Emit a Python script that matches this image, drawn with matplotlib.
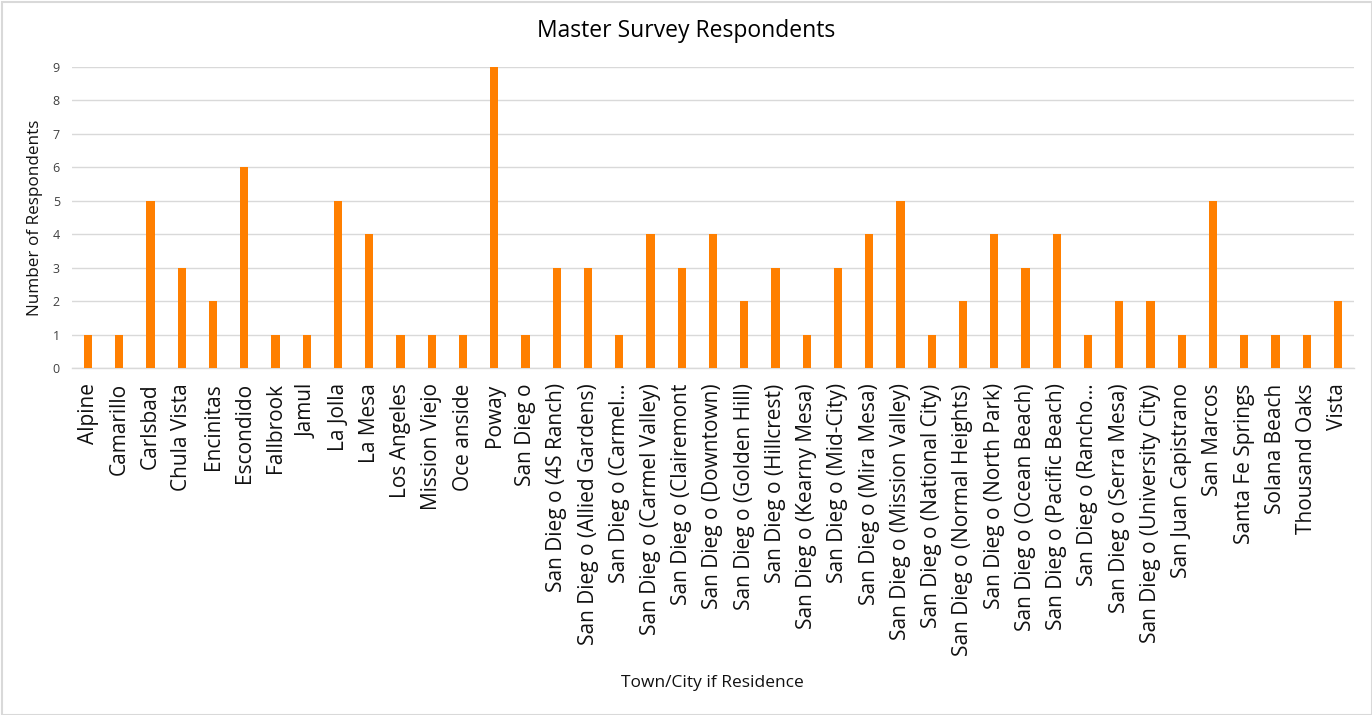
import matplotlib
matplotlib.use("Agg")
import matplotlib.pyplot as plt
from matplotlib.patches import Rectangle

categories = [
    "Alpine", "Camarillo", "Carlsbad", "Chula Vista", "Encinitas", "Escondido",
    "Fallbrook", "Jamul", "La Jolla", "La Mesa", "Los Angeles", "Mission Viejo",
    "Oce anside", "Poway", "San Dieg o", "San Dieg o (4S Ranch)",
    "San Dieg o (Allied Gardens)", "San Dieg o (Carmel…", "San Dieg o (Carmel Valley)",
    "San Dieg o (Clairemont", "San Dieg o (Downtown)", "San Dieg o (Golden Hill)",
    "San Dieg o (Hillcrest)", "San Dieg o (Kearny Mesa)", "San Dieg o (Mid-City)",
    "San Dieg o (Mira Mesa)", "San Dieg o (Mission Valley)", "San Dieg o (National City)",
    "San Dieg o (Normal Heights)", "San Dieg o (North Park)", "San Dieg o (Ocean Beach)",
    "San Dieg o (Pacific Beach)", "San Dieg o (Rancho…", "San Dieg o (Serra Mesa)",
    "San Dieg o (University City)", "San Juan Capistrano", "San Marcos",
    "Santa Fe Springs", "Solana Beach", "Thousand Oaks", "Vista",
]
respondents = [1, 1, 5, 3, 2, 6, 1, 1, 5, 4, 1, 1, 1, 9, 1, 3, 3, 1, 4, 3, 4, 2,
               3, 1, 3, 4, 5, 1, 2, 4, 3, 4, 1, 2, 2, 1, 5, 1, 1, 1, 2]
y_ticks = list(range(0, 10))

title = "Master Survey Respondents"
x_label = "Town/City if Residence"
y_label = "Number of Respondents"

plt.rcParams['font.family'] = ['Open Sans', 'DejaVu Sans']

W, H = 1372, 715
fig = plt.figure(figsize=(W / 100, H / 100), dpi=100)
left, right = 72.4, 1353.6
y0, y9 = 368, 67
ymax_val = 9
ax = fig.add_axes([left / W, 1 - y0 / H, (right - left) / W, (y0 - y9) / H])

x = list(range(len(categories)))
ax.bar(x, respondents, width=0.26, color="#FF7F00", zorder=3)
ax.set_xlim(-0.5, len(categories) - 0.5)
ax.set_ylim(0, ymax_val)
ax.set_yticks(y_ticks)
ax.set_yticklabels([str(v) for v in y_ticks], fontsize=9, color="#404040")
ax.set_xticks(x)
ax.set_xticklabels(categories, rotation=90, fontsize=15, color="#111111")
ax.tick_params(axis="both", length=0)
ax.tick_params(axis="y", pad=9)
ax.tick_params(axis="x", pad=11)
ax.grid(axis="y", color="#d9d9d9", linewidth=1, zorder=0)
for s in ["top", "right", "left"]:
    ax.spines[s].set_visible(False)
ax.spines["bottom"].set_color("#d9d9d9")
ax.spines["bottom"].set_linewidth(1)

fig.text(686 / W, 1 - 31 / H, title, ha="center", va="center", fontsize=16.5, color="#000000")
fig.text(35 / W, 1 - 218 / H, y_label, ha="center", va="center", rotation=90,
         fontsize=12.3, color="#111111")
fig.text(712 / W, 1 - 683 / H, x_label, ha="center", va="center", fontsize=12.5,
         color="#111111")

fig.patches.append(Rectangle((2 / W, 0), 1 - 2 / W, 1 - 2 / H, transform=fig.transFigure,
                             fill=False, edgecolor="#d9d9d9", linewidth=1.5))

fig.savefig("out.png", dpi=100)
